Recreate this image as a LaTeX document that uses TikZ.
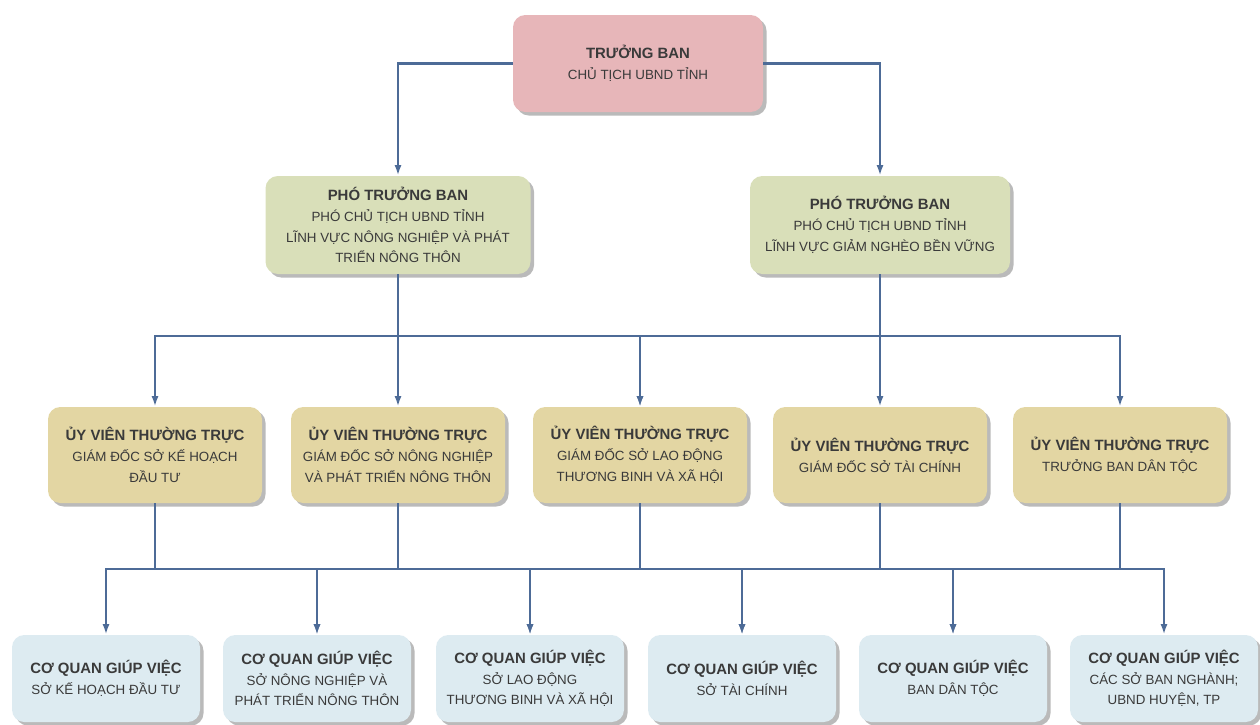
\documentclass[tikz,border=0pt]{standalone}
\usepackage{fontspec}
\setmainfont{Liberation Sans}
\usetikzlibrary{arrows.meta,shadows}

\definecolor{chiefpink}{HTML}{E7B6B9}
\definecolor{deputygreen}{HTML}{D9DFB9}
\definecolor{membertan}{HTML}{E3D6A3}
\definecolor{agencyblue}{HTML}{DDEBF1}
\definecolor{linkblue}{HTML}{4D6B97}
\definecolor{textgray}{HTML}{3A3A3A}

\newcommand{\rolename}[1]{{\fontsize{8.5}{11.8}\selectfont\bfseries #1}}

\begin{document}
\begin{tikzpicture}[
    box/.style={rounded corners=7pt, align=center, text=textgray, inner sep=2pt,
        drop shadow={shadow xshift=2pt, shadow yshift=-2pt, opacity=0.45, fill=black!60},
        font=\fontsize{7.6}{11.8}\selectfont},
    chief/.style={box, fill=chiefpink, minimum width=5cm, minimum height=1.94cm},
    deputy/.style={box, fill=deputygreen, minimum width=5.3cm, minimum height=1.96cm},
    member/.style={box, fill=membertan, minimum width=4.28cm, minimum height=1.92cm},
    agency/.style={box, fill=agencyblue, minimum width=3.76cm, minimum height=1.74cm},
    link/.style={draw=linkblue, line width=1.4pt},
    arrow/.style={link, -{Latex[length=6pt,width=4pt]}}
]
    \useasboundingbox (0,0) rectangle (25.2,-14.48);

    % top level
    \node[chief] (chief) at (12.76,-1.27) {\rolename{TRƯỞNG BAN}\\CHỦ TỊCH UBND TỈNH};

    % deputies
    \node[deputy] (depL) at (7.96,-4.5) {\rolename{PHÓ TRƯỞNG BAN}\\PHÓ CHỦ TỊCH UBND TỈNH\\LĨNH VỰC NÔNG NGHIỆP VÀ PHÁT\\TRIỂN NÔNG THÔN};
    \node[deputy, minimum width=5.2cm] (depR) at (17.6,-4.5) {\rolename{PHÓ TRƯỞNG BAN}\\PHÓ CHỦ TỊCH UBND TỈNH\\LĨNH VỰC GIẢM NGHÈO BỀN VỮNG};

    % standing members
    \node[member] (m1) at (3.1,-9.1) {\rolename{ỦY VIÊN THƯỜNG TRỰC}\\GIÁM ĐỐC SỞ KẾ HOẠCH\\ĐẦU TƯ};
    \node[member] (m2) at (7.96,-9.1) {\rolename{ỦY VIÊN THƯỜNG TRỰC}\\GIÁM ĐỐC SỞ NÔNG NGHIỆP\\VÀ PHÁT TRIỂN NÔNG THÔN};
    \node[member] (m3) at (12.8,-9.1) {\rolename{ỦY VIÊN THƯỜNG TRỰC}\\GIÁM ĐỐC SỞ LAO ĐỘNG\\THƯƠNG BINH VÀ XÃ HỘI};
    \node[member] (m4) at (17.6,-9.1) {\rolename{ỦY VIÊN THƯỜNG TRỰC}\\GIÁM ĐỐC SỞ TÀI CHÍNH};
    \node[member] (m5) at (22.4,-9.1) {\rolename{ỦY VIÊN THƯỜNG TRỰC}\\TRƯỞNG BAN DÂN TỘC};

    % supporting agencies
    \node[agency] (c1) at (2.12,-13.57) {\rolename{CƠ QUAN GIÚP VIỆC}\\SỞ KẾ HOẠCH ĐẦU TƯ};
    \node[agency] (c2) at (6.34,-13.57) {\rolename{CƠ QUAN GIÚP VIỆC}\\SỞ NÔNG NGHIỆP VÀ\\PHÁT TRIỂN NÔNG THÔN};
    \node[agency] (c3) at (10.6,-13.57) {\rolename{CƠ QUAN GIÚP VIỆC}\\SỞ LAO ĐỘNG\\THƯƠNG BINH VÀ XÃ HỘI};
    \node[agency] (c4) at (14.84,-13.57) {\rolename{CƠ QUAN GIÚP VIỆC}\\SỞ TÀI CHÍNH};
    \node[agency] (c5) at (19.06,-13.57) {\rolename{CƠ QUAN GIÚP VIỆC}\\BAN DÂN TỘC};
    \node[agency] (c6) at (23.28,-13.57) {\rolename{CƠ QUAN GIÚP VIỆC}\\CÁC SỞ BAN NGHÀNH;\\UBND HUYỆN, TP};

    \coordinate (midbus) at (0,-6.72);
    \coordinate (lowbus) at (0,-11.38);

    % chief to deputies
    \draw[arrow] (chief.west) -| (depL.north);
    \draw[arrow] (chief.east) -| (depR.north);

    % deputies to members
    \draw[arrow] (depL.south) |- (midbus -| m1) -- (m1.north);
    \draw[arrow] (depL.south) -- (m2.north);
    \draw[arrow] (depL.south) |- (midbus -| m3) -- (m3.north);
    \draw[arrow] (depR.south) |- (midbus -| m3) -- (m3.north);
    \draw[arrow] (depR.south) -- (m4.north);
    \draw[arrow] (depR.south) |- (midbus -| m5) -- (m5.north);

    % members to agencies
    \draw[arrow] (m1.south) |- (lowbus -| c1) -- (c1.north);
    \draw[arrow] (m1.south) |- (lowbus -| c2) -- (c2.north);
    \draw[arrow] (m2.south) |- (lowbus -| c2) -- (c2.north);
    \draw[arrow] (m2.south) |- (lowbus -| c3) -- (c3.north);
    \draw[arrow] (m3.south) |- (lowbus -| c3) -- (c3.north);
    \draw[arrow] (m3.south) |- (lowbus -| c4) -- (c4.north);
    \draw[arrow] (m4.south) |- (lowbus -| c4) -- (c4.north);
    \draw[arrow] (m4.south) |- (lowbus -| c5) -- (c5.north);
    \draw[arrow] (m5.south) |- (lowbus -| c5) -- (c5.north);
    \draw[arrow] (m5.south) |- (lowbus -| c6) -- (c6.north);
\end{tikzpicture}
\end{document}
